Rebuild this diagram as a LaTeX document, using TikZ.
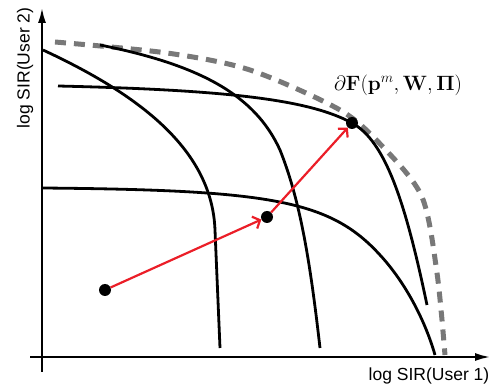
\documentclass[tikz,border=0pt]{standalone}
\usepackage{amsmath}
\usepackage[no-math]{fontspec}
\setsansfont{Liberation Sans}
\usetikzlibrary{arrows.meta, positioning}
\definecolor{FrontierGray}{RGB}{120,120,120}
\definecolor{PathRed}{RGB}{235,30,40}

\begin{document}
\begin{tikzpicture}[
  x=1pt, y=-1pt,
  axis/.style={line width=2.6pt, -{Latex[length=16pt, width=8pt]}},
  region/.style={line width=2.8pt},
  bound/.style={line width=5pt, FrontierGray, dash pattern=on 11pt off 8pt},
  dot/.style={circle, fill=black, inner sep=0pt, minimum size=12pt},
  move/.style={PathRed, line width=2.2pt, -{Straight Barb[length=6pt, width=13pt]}},
  lab/.style={font=\sffamily\fontsize{17.5}{20}\selectfont}
]
  \useasboundingbox (0,0) rectangle (491,390);
  % axes
  \coordinate (ylow) at (42,372);
  \coordinate (ytop) at (42,7);
  \coordinate (xlow) at (30,357);
  \coordinate (xend) at (491,357);
  \draw[axis] (ylow) -- (ytop);
  \draw[axis] (xlow) -- (xend);
  \node[lab] (xlab) at (429,376) {log SIR(User 1)};
  \node[lab, rotate=90] (ylab) at (25,68) {log SIR(User 2)};

  % outer boundary
  \draw[bound] plot[smooth] coordinates {(55,42) (167,53) (250,70) (340,110) (383,147) (422,197) (437,273) (445,355)};

  % rate regions
  \draw[region] (43,50) .. controls (140,95) and (212,150) .. (215,230) -- (220,348);
  \draw[region] (58,86) .. controls (230,90) and (310,100) .. (352,123)
                        .. controls (385,141) and (405,200) .. (427,305);
  \draw[region] (100,45) .. controls (200,65) and (255,95) .. (280,150)
                         .. controls (300,200) and (310,260) .. (320,348);
  \draw[region] (42,188) .. controls (270,190) and (330,200) .. (380,255)
                         .. controls (405,282) and (425,320) .. (435,355);

  % iterates
  \node[dot] (start) at (105,290) {};
  \node[dot] (mid) at (267,217) {};
  \node[dot] (opt) at (352,123) {};
  \draw[move] (start) -- (mid);
  \draw[move] (mid) -- (opt);
  \node[font=\fontsize{21}{24}\selectfont] (bnd) at (398,85) {$\partial\mathbf{F}(\mathbf{p}^m,\mathbf{W},\mathbf{\Pi})$};
\end{tikzpicture}
\end{document}
